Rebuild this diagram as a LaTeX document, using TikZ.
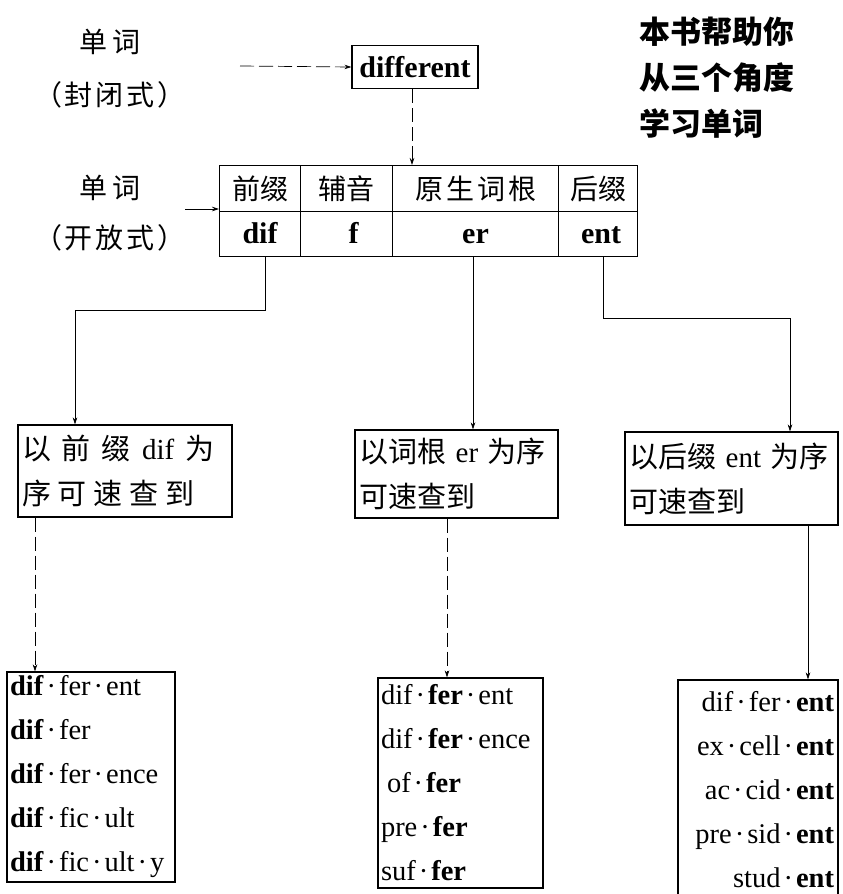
\documentclass[tikz,border=0pt]{standalone}
\usepackage{fontspec}
\setmainfont{Liberation Serif}
\newfontfamily\cjk{Noto Sans CJK SC}
\usetikzlibrary{arrows.meta,calc}
\newcommand\sdot{\kern3pt·\kern3pt}
\begin{document}
\begin{tikzpicture}[x=1pt,y=-1pt,
  every node/.style={inner sep=0pt},
  conn/.style={line width=0.7pt,-{Stealth[length=7pt,width=4.5pt]}},
  faint/.style={conn,dash pattern=on 14pt off 5pt},
  boxed/.style={draw,line width=1.1pt},
  cell/.style={draw,line width=1.1pt,anchor=north west,minimum height=46pt},
  lbl/.style={font={\cjk\fontsize{28}{30}\selectfont}},
  hd/.style={cell,font={\cjk\fontsize{28}{30}\selectfont}},
  bd/.style={cell,font={\bfseries\fontsize{30}{30}\selectfont},text height=21pt,text depth=2pt},
  qbox/.style={boxed,align=left,font={\fontsize{29}{45}\selectfont},inner xsep=4pt},
  lst/.style={boxed,font={\fontsize{28.5}{44}\selectfont},inner xsep=3pt}
]
\useasboundingbox (0,0) rectangle (843,894);

% closed word
\node[lbl] (w1) at (110,42) {单\hspace{6pt}词};
\node[lbl] (w1b) at (110,95) {（\hspace{3pt}封\hspace{3pt}闭\hspace{3pt}式\hspace{3pt}）};
\node[boxed,minimum width=126pt,minimum height=43pt,font={\bfseries\fontsize{30}{30}\selectfont}] (diff) at (415,67) {different};
\coordinate (s1) at (240,66);
\draw[faint] (s1) -- (diff.west);

% title
\node[anchor=north west,align=left,font={\cjk\bfseries\fontsize{31}{46}\selectfont}] (title) at (639,17) {本书帮助你\\从三个角度\\学习单词};

% open word
\node[lbl] (w2) at (110,188) {单\hspace{6pt}词};
\node[lbl] (w2b) at (110,238) {（\hspace{3pt}开\hspace{3pt}放\hspace{3pt}式\hspace{3pt}）};

% table
\node[hd,minimum width=81pt] (h1) at (219,165) {前缀};
\node[hd,minimum width=92pt] (h2) at (300,165) {辅音};
\node[hd,minimum width=166pt] (h3) at (392,165) {原\hspace{3pt}生\hspace{3pt}词\hspace{3pt}根};
\node[hd,minimum width=79pt] (h4) at (558,165) {后缀};
\node[bd,minimum width=81pt,minimum height=45pt] (r1) at (219,211) {dif};
\node[bd,minimum width=92pt,minimum height=45pt] (r2) at (300,211) {\hspace{14pt}f};
\node[bd,minimum width=166pt,minimum height=45pt] (r3) at (392,211) {er};
\node[bd,minimum width=79pt,minimum height=45pt] (r4) at (558,211) {\hspace{6pt}ent};

\draw[faint] (diff.south -| 412,0) -- (h3.north -| 412,0);
\coordinate (s2) at (185,209);
\draw[conn] (s2) -- (s2 -| h1.west);

% query boxes
\node[qbox,minimum width=214pt,minimum height=92pt,text width=206pt] (b1) at (125,471)
  {{\cjk 以\hspace{11pt}前\hspace{11pt}缀}\hspace{11pt}dif\hspace{11pt}{\cjk 为}\\{\cjk 序\hspace{7pt}可\hspace{7pt}速\hspace{7pt}查\hspace{7pt}到}};
\node[qbox,minimum width=203pt,minimum height=88pt,text width=195pt] (b2) at (456.5,474)
  {{\cjk 以词根} er {\cjk 为序}\\{\cjk 可速查到}};
\node[qbox,minimum width=213pt,minimum height=93pt,text width=205pt] (b3) at (731.5,478.5)
  {{\cjk 以后缀} ent {\cjk 为序}\\{\cjk 可速查到}};

\draw[conn] (r1.south -| 265,0) |- (75,310) -- (b1.north -| 75,0);
\draw[conn] (r3.south -| 473,0) -- (b2.north -| 473,0);
\draw[conn] (r4.south -| 603,0) |- (790,318) -- (b3.north -| 790,0);

% lists
\node[lst,minimum width=168pt,minimum height=210pt,text width=162pt,align=left] (l1) at (91,777)
  {\textbf{dif}\sdot fer\sdot ent\\\textbf{dif}\sdot fer\\\textbf{dif}\sdot fer\sdot ence\\\textbf{dif}\sdot fic\sdot ult\\\textbf{dif}\sdot fic\sdot ult\sdot y};
\node[lst,minimum width=165pt,minimum height=210pt,text width=159pt,align=left] (l2) at (460.5,783)
  {dif\sdot\textbf{fer}\sdot ent\\dif\sdot\textbf{fer}\sdot ence\\\hspace{6pt}of\sdot\textbf{fer}\\pre\sdot\textbf{fer}\\suf\sdot\textbf{fer}};
\node[lst,minimum width=160pt,minimum height=220pt,text width=152pt,align=right] (l3) at (758,790)
  {dif\sdot fer\sdot\textbf{ent}\\ex\sdot cell\sdot\textbf{ent}\\ac\sdot cid\sdot\textbf{ent}\\pre\sdot sid\sdot\textbf{ent}\\stud\sdot\textbf{ent}};

\draw[faint] (b1.south -| 35,0) -- (l1.north -| 35,0);
\draw[faint] (b2.south -| 447,0) -- (l2.north -| 447,0);
\draw[conn] (b3.south -| 808,0) -- (l3.north -| 808,0);
\end{tikzpicture}
\end{document}
